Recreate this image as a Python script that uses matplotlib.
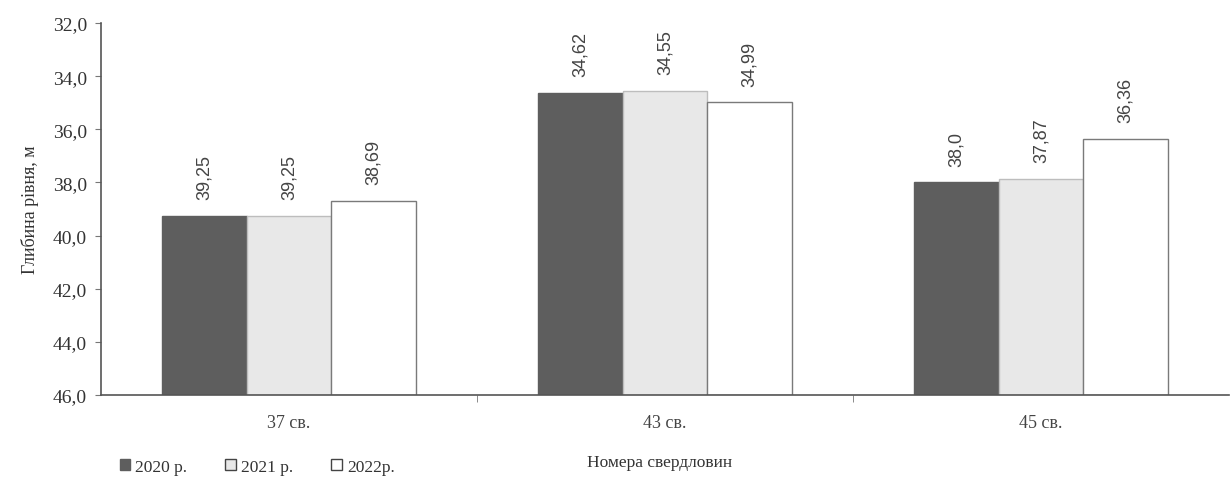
import matplotlib
matplotlib.use("Agg")
import matplotlib.pyplot as plt
import numpy as np
from matplotlib.patches import Patch

categories = ["37 св.", "43 св.", "45 св."]
series_names = ["2020 р.", "2021 р.", "2022р."]
values_2020 = [39.25, 34.62, 38.0]
values_2021 = [39.25, 34.55, 37.87]
values_2022 = [38.69, 34.99, 36.36]
label_2020 = ["39,25", "34,62", "38,0"]
label_2021 = ["39,25", "34,55", "37,87"]
label_2022 = ["38,69", "34,99", "36,36"]
yticks = [32, 34, 36, 38, 40, 42, 44, 46]
ytick_labels = ["32,0", "34,0", "36,0", "38,0", "40,0", "42,0", "44,0", "46,0"]

serif = "Liberation Serif"
sans = "Liberation Sans"

fig = plt.figure(figsize=(12.3, 4.81), dpi=100)
ax = fig.add_axes([101/1230, 1-396/481, 1128/1230, (396-24)/481])

base = 46.0
x = np.arange(len(categories))
w = 0.225
colors = ["#5e5e5e", "#e8e8e8", "#ffffff"]
edges = ["#5e5e5e", "#bdbdbd", "#7a7a7a"]
all_vals = [values_2020, values_2021, values_2022]
all_labels = [label_2020, label_2021, label_2022]
for i, (vals, labs) in enumerate(zip(all_vals, all_labels)):
    pos = x + (i - 1) * w
    heights = [v - base for v in vals]
    ax.bar(pos, heights, width=w, bottom=base, color=colors[i], edgecolor=edges[i], linewidth=1.0)
    for p, v, t in zip(pos, vals, labs):
        ax.annotate(t, (p, v), xytext=(0, 12), textcoords="offset points",
                    rotation=90, ha="center", va="bottom", fontsize=13,
                    family=sans, color="#444444")

ax.set_ylim(46, 32)
ax.set_xlim(-0.5, 2.5)
ax.set_yticks(yticks)
ax.set_yticklabels(ytick_labels, family=serif, fontsize=14, color="#333333")
ax.set_xticks(x)
ax.set_xticklabels(categories, family=serif, fontsize=13, color="#444444")
ax.tick_params(axis="x", length=0, pad=14)
ax.set_xticks([0.5, 1.5], minor=True)
ax.tick_params(axis="x", which="minor", length=5, color="#777777")
ax.tick_params(axis="y", length=4, color="#777777", pad=6)
for s in ["top", "right"]:
    ax.spines[s].set_visible(False)
for s in ["left", "bottom"]:
    ax.spines[s].set_color("#555555")
    ax.spines[s].set_linewidth(1.2)

ax.set_ylabel("Глибина рівня, м", family=serif, fontsize=13, color="#333333", labelpad=10)
fig.text(660/1230, 1-463/481, "Номера свердловин", family=serif, fontsize=12.5,
         color="#333333", ha="center", va="center")

handles = [Patch(facecolor=colors[0], edgecolor="#5e5e5e"),
           Patch(facecolor=colors[1], edgecolor="#444444"),
           Patch(facecolor="#ffffff", edgecolor="#444444")]
leg = fig.legend(handles, series_names, loc="center left", bbox_to_anchor=(104/1230, 1-468/481),
                 ncol=3, frameon=False, prop={"family": serif, "size": 12.5},
                 handlelength=0.6, handleheight=0.6, handletextpad=0.3, columnspacing=2.2)
for t in leg.get_texts():
    t.set_color("#333333")

fig.savefig("out.png", dpi=100, facecolor="white")
